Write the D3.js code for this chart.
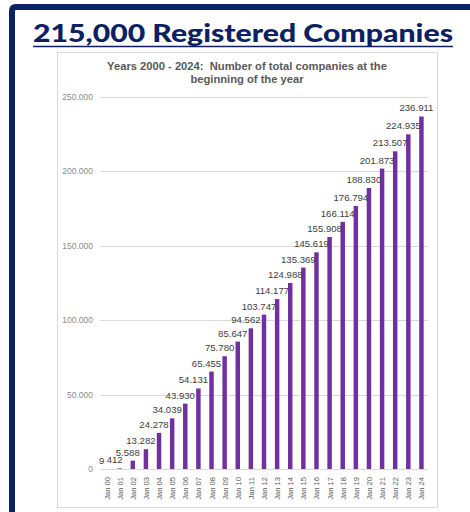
<!DOCTYPE html>
<html>
<head>
<meta charset="utf-8">
<script src="https://cdn.jsdelivr.net/npm/d3@7"></script>
<style>
  body { margin: 0; background: #fff; }
  svg { display: block; }
</style>
</head>
<body>
<script>
// data
var years = ["Jan 00","Jan 01","Jan 02","Jan 03","Jan 04","Jan 05","Jan 06","Jan 07","Jan 08",
  "Jan 09","Jan 10","Jan 11","Jan 12","Jan 13","Jan 14","Jan 15","Jan 16","Jan 17","Jan 18",
  "Jan 19","Jan 20","Jan 21","Jan 22","Jan 23","Jan 24"];
var companies = [9, 412, 5588, 13282, 24278, 34039, 43930, 54131, 65455, 75780, 85647, 94562,
  103747, 114177, 124988, 135369, 145619, 155908, 166114, 176794, 188830, 201873, 213507,
  224935, 236911];
var yTicks = [0, 50000, 100000, 150000, 200000, 250000];

var width = 470,
    height = 512;

var svg = d3.select("body").append("svg")
    .attr("width", width)
    .attr("height", height);

// navy frame (top + left)
svg.append("path")
    .attr("d", "M12,512 L12,11 Q12,7 16,7 L470,7")
    .attr("fill", "none")
    .attr("stroke", "#0b2161")
    .attr("stroke-width", 6);

// big heading
svg.append("text")
    .attr("x", 243)
    .attr("y", 42)
    .attr("text-anchor", "middle")
    .attr("font-family", "Lato, 'Open Sans', sans-serif")
    .attr("font-weight", "900")
    .attr("font-size", 24.5)
    .attr("fill", "#0b2161")
    .attr("textLength", 420)
    .attr("lengthAdjust", "spacingAndGlyphs")
    .text("215,000 Registered Companies");

svg.append("line")
    .attr("x1", 33).attr("x2", 453)
    .attr("y1", 46.5).attr("y2", 46.5)
    .attr("stroke", "#0b2161")
    .attr("stroke-width", 1.5);

// chart box
svg.append("rect")
    .attr("x", 57.5).attr("y", 52.5)
    .attr("width", 380).attr("height", 455)
    .attr("fill", "#fff")
    .attr("stroke", "#d9d9d9");

var title = svg.append("text")
    .attr("text-anchor", "middle")
    .attr("font-family", "Arial, 'Liberation Sans', sans-serif")
    .attr("font-weight", "bold")
    .attr("font-size", 11.2)
    .attr("fill", "#595959")
    .style("white-space", "pre");
title.append("tspan").attr("x", 247).attr("y", 70)
    .text("Years 2000 - 2024:  Number of total companies at the");
title.append("tspan").attr("x", 247).attr("y", 83)
    .text("beginning of the year");

// scales
var x = d3.scaleBand()
    .domain(years)
    .range([100, 428])
    .paddingInner(0.66)
    .paddingOuter(0.33);

var y = d3.scaleLinear()
    .domain([0, 250000])
    .range([469, 97]);

var fmt = function(v) { return d3.format(",")(v).replace(/,/g, "."); };

// gridlines
svg.append("g")
  .selectAll("line")
  .data(yTicks)
  .enter().append("line")
    .attr("x1", 100).attr("x2", 428)
    .attr("y1", function(d) { return Math.round(y(d)) + 0.5; })
    .attr("y2", function(d) { return Math.round(y(d)) + 0.5; })
    .attr("stroke", "#d9d9d9");

// y labels
svg.append("g")
  .selectAll("text")
  .data(yTicks)
  .enter().append("text")
    .attr("x", 93)
    .attr("y", function(d) { return y(d) + 3; })
    .attr("text-anchor", "end")
    .attr("font-family", "Arial, 'Liberation Sans', sans-serif")
    .attr("font-size", 8.5)
    .attr("fill", "#8c8c8c")
    .text(fmt);

// bars
svg.append("g")
  .selectAll("rect")
  .data(companies)
  .enter().append("rect")
    .attr("x", function(d, i) { return x(years[i]); })
    .attr("y", function(d) { return y(d); })
    .attr("width", x.bandwidth())
    .attr("height", function(d) { return y(0) - y(d); })
    .attr("fill", "#7030a0");

// value labels
svg.append("g")
  .selectAll("text")
  .data(companies)
  .enter().append("text")
    .attr("x", function(d, i) { return x(years[i]) + x.bandwidth() / 2 - 5; })
    .attr("y", function(d) { return y(d) - 5; })
    .attr("text-anchor", "middle")
    .attr("font-family", "Arial, 'Liberation Sans', sans-serif")
    .attr("font-size", 9.6)
    .attr("fill", "#404040")
    .text(fmt);

// x labels, rotated
svg.append("g")
  .selectAll("text")
  .data(years)
  .enter().append("text")
    .attr("transform", function(d) {
      return "translate(" + (x(d) + x.bandwidth() / 2 + 3) + ",477) rotate(-90)";
    })
    .attr("text-anchor", "end")
    .attr("font-family", "Arial, 'Liberation Sans', sans-serif")
    .attr("font-size", 7.6)
    .attr("fill", "#595959")
    .text(function(d) { return d; });
</script>
</body>
</html>
